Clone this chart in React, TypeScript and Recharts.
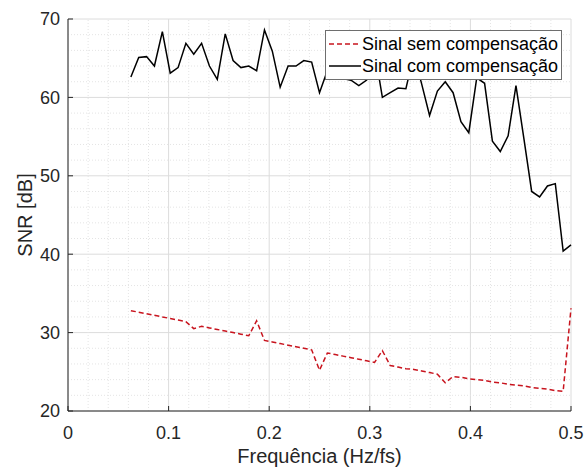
import {
  LineChart,
  Line,
  XAxis,
  YAxis,
  CartesianGrid,
  ReferenceLine,
  Legend,
} from "recharts";

// frequency bins (Hz/fs)
const freq = [
  0.0625, 0.0703, 0.0781, 0.0859, 0.0938, 0.1016, 0.1094, 0.1172, 0.125, 0.1328,
  0.1406, 0.1484, 0.1563, 0.1641, 0.1719, 0.1797, 0.1875, 0.1953, 0.2031, 0.2109,
  0.2188, 0.2266, 0.2344, 0.2422, 0.25, 0.2578, 0.2656, 0.2734, 0.2813, 0.2891,
  0.2969, 0.3047, 0.3125, 0.3203, 0.3281, 0.3359, 0.3438, 0.3516, 0.3594, 0.3672,
  0.375, 0.3828, 0.3906, 0.3984, 0.4063, 0.4141, 0.4219, 0.4297, 0.4375, 0.4453,
  0.4531, 0.4609, 0.4688, 0.4766, 0.4844, 0.4922, 0.5,
];

// SNR without compensation (dB)
const snrSem = [
  32.8, 32.6, 32.4, 32.2, 32.0, 31.8, 31.6, 31.4, 30.5, 30.8,
  30.6, 30.4, 30.2, 30.0, 29.8, 29.6, 31.5, 29.0, 28.8, 28.6,
  28.4, 28.2, 28.0, 27.8, 25.2, 27.4, 27.2, 27.0, 26.8, 26.6,
  26.4, 26.2, 27.7, 25.8, 25.6, 25.4, 25.3, 25.1, 24.9, 24.7,
  23.6, 24.4, 24.3, 24.1, 24.0, 23.9, 23.7, 23.6, 23.4, 23.3,
  23.2, 23.0, 22.9, 22.8, 22.6, 22.5, 33.1,
];

// SNR with compensation (dB)
const snrCom = [
  62.6, 65.1, 65.2, 64.0, 68.4, 63.1, 63.8, 66.9, 65.5, 66.9,
  64.0, 62.3, 68.1, 64.7, 63.8, 64.0, 63.4, 68.6, 65.9, 61.3,
  64.0, 64.0, 64.7, 64.5, 60.6, 63.4, 64.5, 62.4, 62.2, 61.5,
  62.2, 66.0, 60.0, 60.6, 61.2, 61.1, 65.5, 61.7, 57.7, 60.8,
  62.0, 60.6, 56.9, 55.5, 62.5, 61.8, 54.4, 53.1, 55.1, 61.5,
  54.8, 48.0, 47.3, 48.7, 49.0, 40.4, 41.2,
];

const seriesOrder = ["sem", "com"];

const xTicks = [0, 0.1, 0.2, 0.3, 0.4, 0.5];
const yTicks = [20, 30, 40, 50, 60, 70];
const xMinor = [0.02, 0.04, 0.06, 0.08, 0.12, 0.14, 0.16, 0.18, 0.22, 0.24, 0.26, 0.28, 0.32, 0.34, 0.36, 0.38, 0.42, 0.44, 0.46, 0.48];
const yMinor = [22, 24, 26, 28, 32, 34, 36, 38, 42, 44, 46, 48, 52, 54, 56, 58, 62, 64, 66, 68];

const data = freq.map((f, i) => ({ f, sem: snrSem[i], com: snrCom[i] }));

const AXIS = "#262626";
const FONT = "'Liberation Sans', Arial, Helvetica, sans-serif";

function LegendBox({ payload }: any) {
  const items = [...(payload || [])].sort(
    (a: any, b: any) => seriesOrder.indexOf(a.dataKey) - seriesOrder.indexOf(b.dataKey)
  );
  return (
    <div
      style={{
        background: "#fff",
        border: "1px solid #6e6e6e",
        padding: "2px 0",
        fontFamily: FONT,
        fontSize: 18,
        color: "#000",
      }}
    >
      {items.map((p: any, i: number) => (
        <div key={i} style={{ display: "flex", alignItems: "center", height: 22 }}>
          <svg width={34} height={10} style={{ marginLeft: 2 }}>
            <line
              x1={1}
              y1={5}
              x2={33}
              y2={5}
              stroke={p.color}
              strokeWidth={1.5}
              strokeDasharray={p.dataKey === "sem" ? "5 3" : undefined}
            />
          </svg>
          <span style={{ whiteSpace: "nowrap" }}>{p.value}</span>
        </div>
      ))}
    </div>
  );
}

export default function App() {
  return (
    <div style={{ position: "absolute", left: 0, top: 0, width: 587, height: 468, background: "#fff", fontFamily: FONT }}>
      <LineChart width={587} height={468} data={data} margin={{ top: 19, right: 16, left: 0, bottom: 0 }}>
        {xMinor.map((v) => (
          <ReferenceLine key={"xm" + v} x={v} stroke="#e4e4e4" strokeDasharray="1 2" />
        ))}
        {yMinor.map((v) => (
          <ReferenceLine key={"ym" + v} y={v} stroke="#e4e4e4" strokeDasharray="1 2" />
        ))}
        <CartesianGrid stroke="#dcdcdc" />
        <XAxis
          dataKey="f"
          type="number"
          domain={[0, 0.5]}
          ticks={xTicks}
          height={57}
          tickSize={-5}
          tickMargin={20}
          stroke={AXIS}
          tick={{ fill: AXIS, fontSize: 18, fontFamily: FONT }}
          label={{ value: "Frequência (Hz/fs)", position: "insideBottom", offset: 5, style: { fill: AXIS, fontSize: 20, fontFamily: FONT } }}
        />
        <XAxis
          xAxisId="top"
          orientation="top"
          dataKey="f"
          type="number"
          domain={[0, 0.5]}
          ticks={xTicks}
          height={0}
          tickSize={-5}
          stroke={AXIS}
          tick={() => <g />}
        />
        <YAxis
          domain={[20, 70]}
          ticks={yTicks}
          width={68}
          tickSize={-5}
          tickMargin={13}
          stroke={AXIS}
          tick={{ fill: AXIS, fontSize: 18, fontFamily: FONT }}
          label={{ value: "SNR [dB]", angle: -90, position: "insideLeft", offset: 25, style: { textAnchor: "middle", fill: AXIS, fontSize: 20, fontFamily: FONT } }}
        />
        <YAxis
          yAxisId="right"
          orientation="right"
          domain={[20, 70]}
          ticks={yTicks}
          width={0}
          tickSize={-5}
          stroke={AXIS}
          tick={() => <g />}
        />
        <Line
          dataKey="sem"
          name="Sinal sem compensação"
          stroke="#c8141e"
          strokeWidth={1.5}
          strokeDasharray="5 3"
          dot={false}
          isAnimationActive={false}
        />
        <Line
          dataKey="com"
          name="Sinal com compensação"
          stroke="#000"
          strokeWidth={1.5}
          dot={false}
          isAnimationActive={false}
        />
        <Legend
          layout="vertical"
          align="center"
          verticalAlign="middle"
          content={<LegendBox />}
          wrapperStyle={{ left: 325, top: 30, width: 237 }}
        />
      </LineChart>
    </div>
  );
}
